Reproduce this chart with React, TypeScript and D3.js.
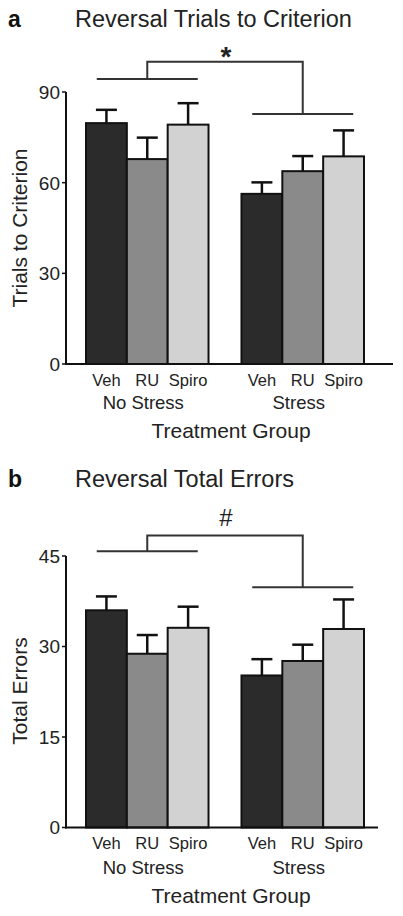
import React from "react";
import * as d3 from "d3";

const groups = ["No Stress", "Stress"];
const treatments = ["Veh", "RU", "Spiro"];
const fills = ["#2b2b2b", "#8a8a8a", "#d2d2d2"];

const trialsMean = [79.7, 67.8, 79.2, 56.3, 63.8, 68.7];
const trialsSem = [4.4, 7.1, 7.1, 3.8, 5.0, 8.6];
const trialsTicks = [0, 30, 60, 90];
const trialsBracket = [94.3, 100, 82.7];

const errorsMean = [36.0, 28.8, 33.1, 25.2, 27.6, 32.9];
const errorsSem = [2.3, 3.1, 3.5, 2.7, 2.7, 4.9];
const errorsTicks = [0, 15, 30, 45];
const errorsBracket = [45.8, 48.4, 39.8];

const FONT = "'Liberation Sans', Arial, sans-serif";

type PanelProps = {
  letter: string;
  title: string;
  ylabel: string;
  means: number[];
  sems: number[];
  ticks: number[];
  bracket: number[];
  symbol: string;
  top: number;
  bottom: number;
  xEnd: number;
  titleY: number;
  symbolY: number;
  labelYs: number[];
  ylabelY: number;
};

function Panel(p: PanelProps) {
  const ymax = p.ticks[p.ticks.length - 1];
  const y = d3.scaleLinear().domain([0, ymax]).range([p.bottom, p.top]);
  const gx = d3.scaleBand<string>().domain(groups).range([86, 364]).paddingInner(0.212).paddingOuter(0);
  const tx = d3.scaleBand<string>().domain(treatments).range([0, gx.bandwidth()]).padding(0);
  const axisX = 66;
  const rows = groups.flatMap((g, gi) =>
    treatments.map((t, ti) => ({ g, t, ti, m: p.means[gi * 3 + ti], s: p.sems[gi * 3 + ti] }))
  );
  const gc = (g: string) => (gx(g) as number) + gx.bandwidth() / 2;
  const [lv, topv, rv] = p.bracket;
  const c1 = gc(groups[0]);
  const c2 = gc(groups[1]);
  const half = 50.5;
  return (
    <g>
      <text x={8} y={p.titleY} fontFamily={FONT} fontWeight="bold" fontSize={23} fill="#111">{p.letter}</text>
      <text x={75} y={p.titleY} fontFamily={FONT} fontSize={23.5} fill="#222">{p.title}</text>
      {rows.map((r, i) => {
        const x0 = (gx(r.g) as number) + (tx(r.t) as number);
        const w = tx.bandwidth();
        const cx = x0 + w / 2;
        return (
          <g key={i}>
            <line x1={cx} x2={cx} y1={y(r.m)} y2={y(r.m + r.s)} stroke="#111" strokeWidth={2.5} />
            <line x1={cx - 10.5} x2={cx + 10.5} y1={y(r.m + r.s)} y2={y(r.m + r.s)} stroke="#111" strokeWidth={2.5} />
            <rect x={x0} y={y(r.m)} width={w} height={y(0) - y(r.m)} fill={fills[r.ti]} stroke="#111" strokeWidth={2} />
          </g>
        );
      })}
      <line x1={axisX} x2={axisX} y1={y(ymax)} y2={y(0) + 1} stroke="#111" strokeWidth={2} />
      <line x1={axisX - 1} x2={p.xEnd} y1={y(0)} y2={y(0)} stroke="#111" strokeWidth={2.2} />
      {p.ticks.map((t) => (
        <g key={t}>
          <line x1={axisX - 4} x2={axisX} y1={y(t)} y2={y(t)} stroke="#111" strokeWidth={1.5} />
          <text x={axisX - 6} y={y(t)} dy="0.36em" textAnchor="end" fontFamily={FONT} fontSize={19} fill="#222">{t}</text>
        </g>
      ))}
      <text transform={`translate(27,${p.ylabelY}) rotate(-90)`} textAnchor="middle" fontFamily={FONT} fontSize={21} fill="#222">{p.ylabel}</text>
      {rows.map((r, i) => {
        const cx = (gx(r.g) as number) + (tx(r.t) as number) + tx.bandwidth() / 2;
        return (
          <text key={"l" + i} x={cx} y={p.labelYs[0]} textAnchor="middle" fontFamily={FONT} fontSize={16.5} fill="#222">{r.t}</text>
        );
      })}
      {groups.map((g) => (
        <text key={g} x={gc(g) - 4} y={p.labelYs[1]} textAnchor="middle" fontFamily={FONT} fontSize={18.5} fill="#222">{g}</text>
      ))}
      <text x={231} y={p.labelYs[2]} textAnchor="middle" fontFamily={FONT} fontSize={21} fill="#222">Treatment Group</text>
      <g stroke="#333" strokeWidth={2} fill="none">
        <line x1={c1 - half} x2={c1 + half} y1={y(lv)} y2={y(lv)} />
        <line x1={c2 - half} x2={c2 + half} y1={y(rv)} y2={y(rv)} />
        <polyline points={`${c1},${y(lv)} ${c1},${y(topv)} ${c2},${y(topv)} ${c2},${y(rv)}`} />
      </g>
      <text x={(c1 + c2) / 2 + 1} y={p.symbolY} textAnchor="middle" fontFamily={FONT}
        fontWeight={p.symbol === "*" ? "bold" : "normal"} fontSize={p.symbol === "*" ? 28 : 24} fill="#222">{p.symbol}</text>
    </g>
  );
}

export default function App() {
  return (
    <svg width={403} height={916} style={{ position: "absolute", left: 0, top: 0, background: "#fff" }}>
      <rect width={403} height={916} fill="#fff" />
      <Panel
        letter="a"
        title="Reversal Trials to Criterion"
        ylabel="Trials to Criterion"
        means={trialsMean}
        sems={trialsSem}
        ticks={trialsTicks}
        bracket={trialsBracket}
        symbol="*"
        top={92}
        bottom={364}
        xEnd={393}
        titleY={27}
        symbolY={66}
        labelYs={[386, 409, 438]}
        ylabelY={228}
      />
      <Panel
        letter="b"
        title="Reversal Total Errors"
        ylabel="Total Errors"
        means={errorsMean}
        sems={errorsSem}
        ticks={errorsTicks}
        bracket={errorsBracket}
        symbol="#"
        top={556}
        bottom={827.5}
        xEnd={378}
        titleY={487}
        symbolY={526}
        labelYs={[849, 874, 903]}
        ylabelY={691}
      />
    </svg>
  );
}
